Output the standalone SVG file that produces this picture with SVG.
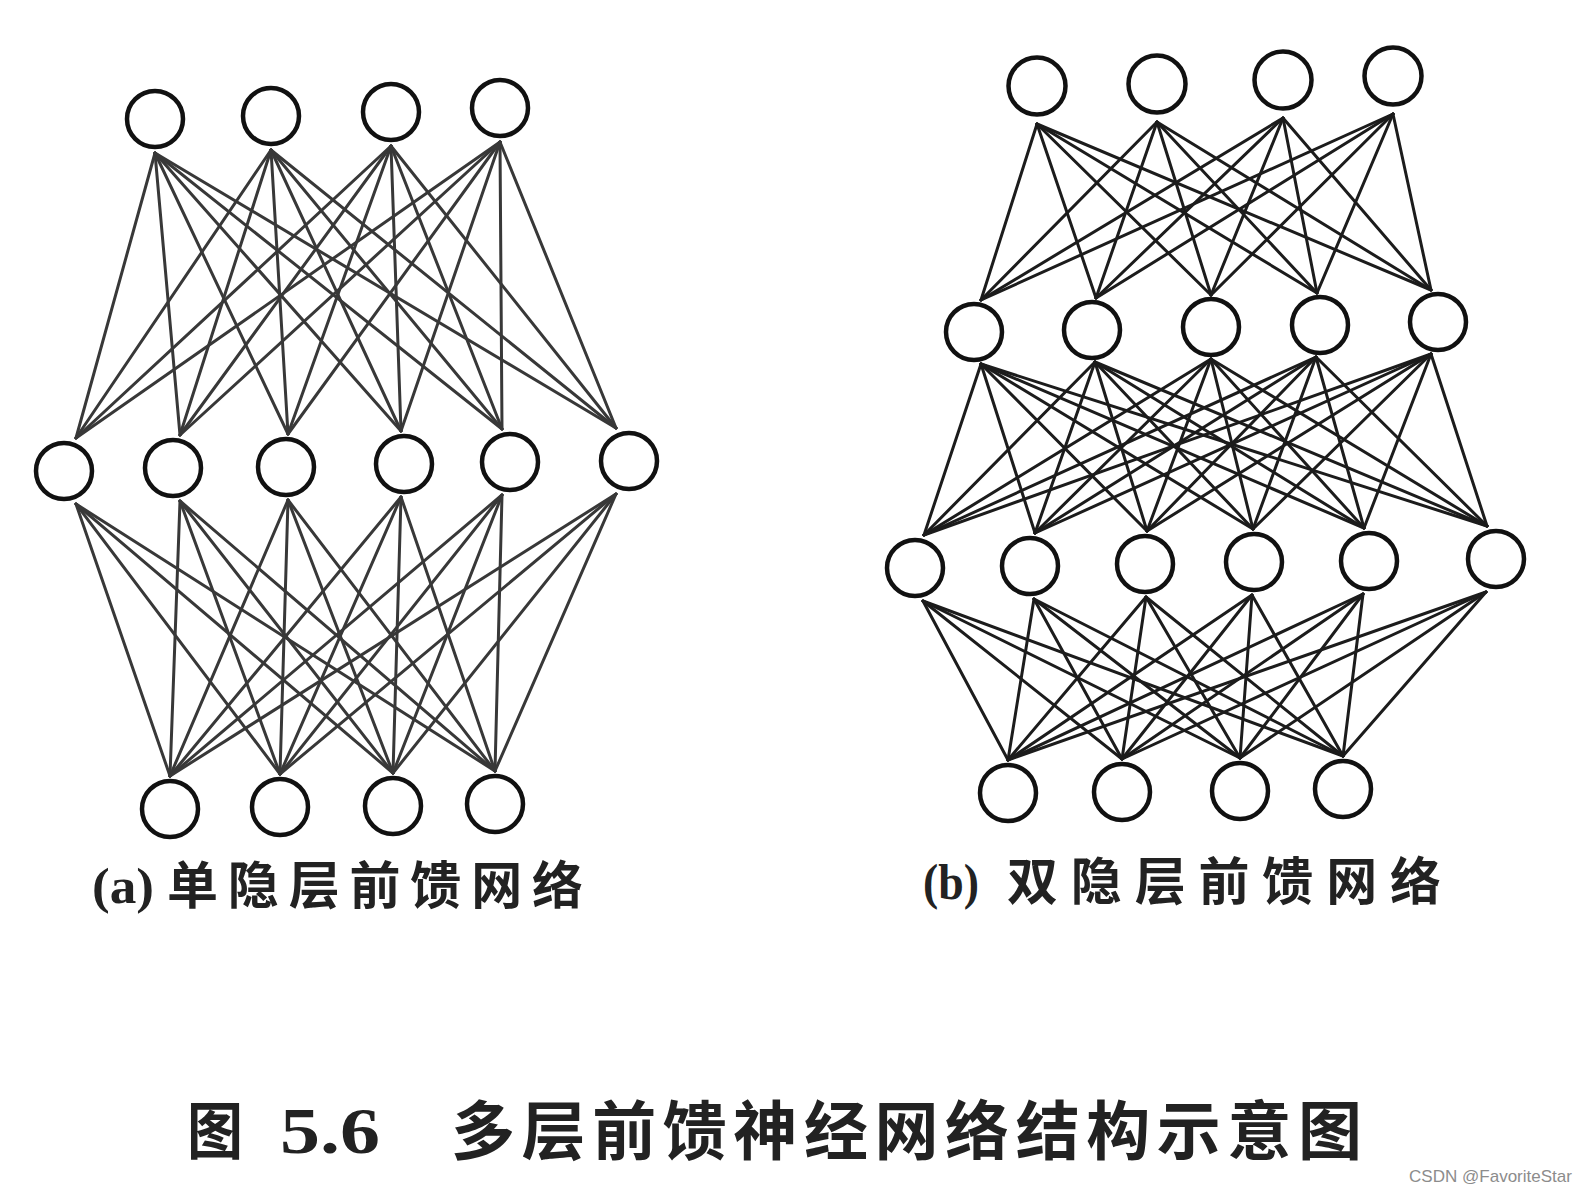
<svg xmlns="http://www.w3.org/2000/svg" width="1584" height="1192" viewBox="0 0 1584 1192">
<style>
.bg{fill:#ffffff}
.node{fill:#ffffff;stroke:#111111;stroke-width:4.5}
.ea line{stroke:#383838;stroke-width:3;stroke-linecap:round}
.eb line{stroke:#1c1c1c;stroke-width:3;stroke-linecap:round}
.lat{font-family:"Liberation Serif","DejaVu Serif",serif;fill:#222222}
.cjk{font-family:"Noto Sans CJK SC","Noto Sans",sans-serif;fill:#222222;font-weight:700}
.wm{font-family:"Liberation Sans","DejaVu Sans",sans-serif;fill:#8c8c8c;font-size:17px}
</style>
<rect class="bg" x="0" y="0" width="1584" height="1192"/>
<g id="connectors">
<g class="ea" id="edges-a">
<line x1="155" y1="153" x2="76" y2="438"/><line x1="155" y1="153" x2="180" y2="435"/><line x1="155" y1="153" x2="288" y2="434"/><line x1="155" y1="153" x2="401" y2="431"/><line x1="155" y1="153" x2="502" y2="429"/><line x1="155" y1="153" x2="616" y2="428"/>
<line x1="271" y1="150" x2="76" y2="438"/><line x1="271" y1="150" x2="180" y2="435"/><line x1="271" y1="150" x2="288" y2="434"/><line x1="271" y1="150" x2="401" y2="431"/><line x1="271" y1="150" x2="502" y2="429"/><line x1="271" y1="150" x2="616" y2="428"/>
<line x1="391" y1="146" x2="76" y2="438"/><line x1="391" y1="146" x2="180" y2="435"/><line x1="391" y1="146" x2="288" y2="434"/><line x1="391" y1="146" x2="401" y2="431"/><line x1="391" y1="146" x2="502" y2="429"/><line x1="391" y1="146" x2="616" y2="428"/>
<line x1="500" y1="142" x2="76" y2="438"/><line x1="500" y1="142" x2="180" y2="435"/><line x1="500" y1="142" x2="288" y2="434"/><line x1="500" y1="142" x2="401" y2="431"/><line x1="500" y1="142" x2="502" y2="429"/><line x1="500" y1="142" x2="616" y2="428"/>
<line x1="76" y1="504" x2="170" y2="776"/><line x1="76" y1="504" x2="280" y2="774"/><line x1="76" y1="504" x2="393" y2="773"/><line x1="76" y1="504" x2="495" y2="771"/>
<line x1="180" y1="501" x2="170" y2="776"/><line x1="180" y1="501" x2="280" y2="774"/><line x1="180" y1="501" x2="393" y2="773"/><line x1="180" y1="501" x2="495" y2="771"/>
<line x1="288" y1="500" x2="170" y2="776"/><line x1="288" y1="500" x2="280" y2="774"/><line x1="288" y1="500" x2="393" y2="773"/><line x1="288" y1="500" x2="495" y2="771"/>
<line x1="401" y1="497" x2="170" y2="776"/><line x1="401" y1="497" x2="280" y2="774"/><line x1="401" y1="497" x2="393" y2="773"/><line x1="401" y1="497" x2="495" y2="771"/>
<line x1="502" y1="495" x2="170" y2="776"/><line x1="502" y1="495" x2="280" y2="774"/><line x1="502" y1="495" x2="393" y2="773"/><line x1="502" y1="495" x2="495" y2="771"/>
<line x1="616" y1="494" x2="170" y2="776"/><line x1="616" y1="494" x2="280" y2="774"/><line x1="616" y1="494" x2="393" y2="773"/><line x1="616" y1="494" x2="495" y2="771"/>
</g>
<g class="eb" id="edges-b">
<line x1="1037" y1="124" x2="981" y2="300"/><line x1="1037" y1="124" x2="1096" y2="298"/><line x1="1037" y1="124" x2="1211" y2="295"/><line x1="1037" y1="124" x2="1317" y2="293"/><line x1="1037" y1="124" x2="1431" y2="290"/>
<line x1="1157" y1="122" x2="981" y2="300"/><line x1="1157" y1="122" x2="1096" y2="298"/><line x1="1157" y1="122" x2="1211" y2="295"/><line x1="1157" y1="122" x2="1317" y2="293"/><line x1="1157" y1="122" x2="1431" y2="290"/>
<line x1="1283" y1="118" x2="981" y2="300"/><line x1="1283" y1="118" x2="1096" y2="298"/><line x1="1283" y1="118" x2="1211" y2="295"/><line x1="1283" y1="118" x2="1317" y2="293"/><line x1="1283" y1="118" x2="1431" y2="290"/>
<line x1="1393" y1="114" x2="981" y2="300"/><line x1="1393" y1="114" x2="1096" y2="298"/><line x1="1393" y1="114" x2="1211" y2="295"/><line x1="1393" y1="114" x2="1317" y2="293"/><line x1="1393" y1="114" x2="1431" y2="290"/>
<line x1="981" y1="364" x2="924" y2="535"/><line x1="981" y1="364" x2="1035" y2="533"/><line x1="981" y1="364" x2="1147" y2="531"/><line x1="981" y1="364" x2="1253" y2="529"/><line x1="981" y1="364" x2="1364" y2="528"/><line x1="981" y1="364" x2="1487" y2="526"/>
<line x1="1095" y1="362" x2="924" y2="535"/><line x1="1095" y1="362" x2="1035" y2="533"/><line x1="1095" y1="362" x2="1147" y2="531"/><line x1="1095" y1="362" x2="1253" y2="529"/><line x1="1095" y1="362" x2="1364" y2="528"/><line x1="1095" y1="362" x2="1487" y2="526"/>
<line x1="1211" y1="359" x2="924" y2="535"/><line x1="1211" y1="359" x2="1035" y2="533"/><line x1="1211" y1="359" x2="1147" y2="531"/><line x1="1211" y1="359" x2="1253" y2="529"/><line x1="1211" y1="359" x2="1364" y2="528"/><line x1="1211" y1="359" x2="1487" y2="526"/>
<line x1="1316" y1="357" x2="924" y2="535"/><line x1="1316" y1="357" x2="1035" y2="533"/><line x1="1316" y1="357" x2="1147" y2="531"/><line x1="1316" y1="357" x2="1253" y2="529"/><line x1="1316" y1="357" x2="1364" y2="528"/><line x1="1316" y1="357" x2="1487" y2="526"/>
<line x1="1431" y1="354" x2="924" y2="535"/><line x1="1431" y1="354" x2="1035" y2="533"/><line x1="1431" y1="354" x2="1147" y2="531"/><line x1="1431" y1="354" x2="1253" y2="529"/><line x1="1431" y1="354" x2="1364" y2="528"/><line x1="1431" y1="354" x2="1487" y2="526"/>
<line x1="923" y1="601" x2="1008" y2="760"/><line x1="923" y1="601" x2="1122" y2="759"/><line x1="923" y1="601" x2="1240" y2="758"/><line x1="923" y1="601" x2="1343" y2="756"/>
<line x1="1034" y1="599" x2="1008" y2="760"/><line x1="1034" y1="599" x2="1122" y2="759"/><line x1="1034" y1="599" x2="1240" y2="758"/><line x1="1034" y1="599" x2="1343" y2="756"/>
<line x1="1146" y1="597" x2="1008" y2="760"/><line x1="1146" y1="597" x2="1122" y2="759"/><line x1="1146" y1="597" x2="1240" y2="758"/><line x1="1146" y1="597" x2="1343" y2="756"/>
<line x1="1252" y1="595" x2="1008" y2="760"/><line x1="1252" y1="595" x2="1122" y2="759"/><line x1="1252" y1="595" x2="1240" y2="758"/><line x1="1252" y1="595" x2="1343" y2="756"/>
<line x1="1363" y1="594" x2="1008" y2="760"/><line x1="1363" y1="594" x2="1122" y2="759"/><line x1="1363" y1="594" x2="1240" y2="758"/><line x1="1363" y1="594" x2="1343" y2="756"/>
<line x1="1486" y1="592" x2="1008" y2="760"/><line x1="1486" y1="592" x2="1122" y2="759"/><line x1="1486" y1="592" x2="1240" y2="758"/><line x1="1486" y1="592" x2="1343" y2="756"/>
</g>
</g>
<g id="a-out-1"><circle class="node" cx="155" cy="119" r="28"/></g>
<g id="a-out-2"><circle class="node" cx="271" cy="116" r="28"/></g>
<g id="a-out-3"><circle class="node" cx="391" cy="112" r="28"/></g>
<g id="a-out-4"><circle class="node" cx="500" cy="108" r="28"/></g>
<g id="a-hid-1"><circle class="node" cx="64" cy="471" r="28"/></g>
<g id="a-hid-2"><circle class="node" cx="173" cy="468" r="28"/></g>
<g id="a-hid-3"><circle class="node" cx="286" cy="467" r="28"/></g>
<g id="a-hid-4"><circle class="node" cx="404" cy="464" r="28"/></g>
<g id="a-hid-5"><circle class="node" cx="510" cy="462" r="28"/></g>
<g id="a-hid-6"><circle class="node" cx="629" cy="461" r="28"/></g>
<g id="a-in-1"><circle class="node" cx="170" cy="809" r="28"/></g>
<g id="a-in-2"><circle class="node" cx="280" cy="807" r="28"/></g>
<g id="a-in-3"><circle class="node" cx="393" cy="806" r="28"/></g>
<g id="a-in-4"><circle class="node" cx="495" cy="804" r="28"/></g>
<g id="b-out-1"><circle class="node" cx="1037" cy="86" r="28.5"/></g>
<g id="b-out-2"><circle class="node" cx="1157" cy="84" r="28.5"/></g>
<g id="b-out-3"><circle class="node" cx="1283" cy="80" r="28.5"/></g>
<g id="b-out-4"><circle class="node" cx="1393" cy="76" r="28.5"/></g>
<g id="b-h1-1"><circle class="node" cx="974" cy="332" r="28"/></g>
<g id="b-h1-2"><circle class="node" cx="1092" cy="330" r="28"/></g>
<g id="b-h1-3"><circle class="node" cx="1211" cy="327" r="28"/></g>
<g id="b-h1-4"><circle class="node" cx="1320" cy="325" r="28"/></g>
<g id="b-h1-5"><circle class="node" cx="1438" cy="322" r="28"/></g>
<g id="b-h2-1"><circle class="node" cx="915" cy="568" r="28"/></g>
<g id="b-h2-2"><circle class="node" cx="1030" cy="566" r="28"/></g>
<g id="b-h2-3"><circle class="node" cx="1145" cy="564" r="28"/></g>
<g id="b-h2-4"><circle class="node" cx="1254" cy="562" r="28"/></g>
<g id="b-h2-5"><circle class="node" cx="1369" cy="561" r="28"/></g>
<g id="b-h2-6"><circle class="node" cx="1496" cy="559" r="28"/></g>
<g id="b-in-1"><circle class="node" cx="1008" cy="793" r="28"/></g>
<g id="b-in-2"><circle class="node" cx="1122" cy="792" r="28"/></g>
<g id="b-in-3"><circle class="node" cx="1240" cy="791" r="28"/></g>
<g id="b-in-4"><circle class="node" cx="1343" cy="789" r="28"/></g>
<g id="label-a">
<text class="lat" x="92" y="903" font-size="50" font-weight="700" textLength="62" lengthAdjust="spacingAndGlyphs">(a)</text>
<text class="cjk" x="167" y="904" font-size="51" textLength="416" lengthAdjust="spacing">单隐层前馈网络</text>
</g>
<g id="label-b">
<text class="lat" x="923" y="899" font-size="50" font-weight="700" textLength="56" lengthAdjust="spacingAndGlyphs">(b)</text>
<text class="cjk" x="1007" y="900" font-size="51" textLength="434" lengthAdjust="spacing">双隐层前馈网络</text>
</g>
<g id="caption">
<text class="cjk" x="187" y="1154" font-size="62" textLength="56" lengthAdjust="spacingAndGlyphs">图</text>
<text class="lat" x="280" y="1153" font-size="66" font-weight="700" textLength="100" lengthAdjust="spacingAndGlyphs">5.6</text>
<text class="cjk" x="451" y="1154" font-size="64" textLength="911" lengthAdjust="spacing">多层前馈神经网络结构示意图</text>
</g>
<text class="wm" x="1409" y="1182" textLength="163" lengthAdjust="spacingAndGlyphs">CSDN @FavoriteStar</text>
</svg>
